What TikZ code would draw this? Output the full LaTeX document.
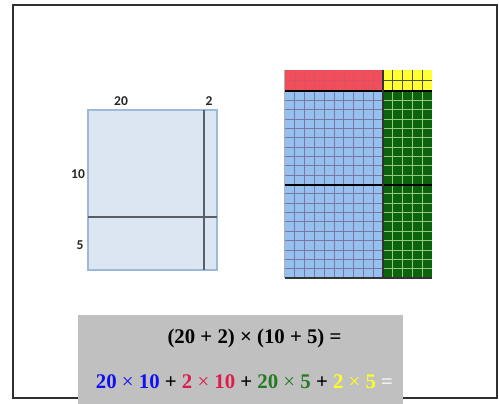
\documentclass[tikz,border=0pt]{standalone}
\usepackage{fontspec}
\setmainfont{Liberation Serif}
\newfontfamily\lblfont{Carlito}
\definecolor{framecol}{HTML}{303030}
\definecolor{boxfill}{HTML}{DCE6F2}
\definecolor{boxborder}{HTML}{9DB9D9}
\definecolor{innerline}{HTML}{5A5F66}
\definecolor{graybox}{HTML}{C0C0C0}
\definecolor{bluec}{HTML}{96C0F0}
\definecolor{greenc}{HTML}{0B640B}
\definecolor{redc}{HTML}{F04E5A}
\definecolor{yelc}{HTML}{FFFF33}
\definecolor{tblue}{HTML}{1010F0}
\definecolor{tred}{HTML}{DC1C4C}
\definecolor{tgreen}{HTML}{237A23}
\definecolor{tyel}{HTML}{FFFF20}
\definecolor{twhite}{HTML}{F4F4F4}
\tikzset{
  sidelbl/.style={font=\lblfont\bfseries\fontsize{13.5}{13.5}\selectfont, text=black!85, inner sep=0pt},
  eqtext/.style={font=\fontsize{20.8}{20.8}\selectfont, inner sep=0pt, anchor=base},
  bluegrid/.style={draw={rgb,255:red,120;green,120;blue,160}, line width=0.9pt},
  greengrid/.style={draw={rgb,255:red,150;green,200;blue,130}, line width=0.9pt},
  yelgrid/.style={draw={rgb,255:red,80;green,80;blue,40}, line width=0.9pt},
  redgrid/.style={draw={rgb,255:red,220;green,80;blue,100}, line width=0.6pt},
  thickline/.style={draw=black, line width=2pt}
}
\begin{document}
\begin{tikzpicture}[x=1pt,y=-1pt]
\useasboundingbox (0,0) rectangle (499,404);
\fill[white] (0,0) rectangle (499,404);
% frame
\draw[framecol, line width=2.2pt] (13,5) rectangle (497,398);
% left area model
\draw[fill=boxfill, draw=boxborder, line width=1.2pt] (88,110) rectangle (217,270);
\draw[innerline, line width=1.4pt] (204,110) -- (204,270);
\draw[innerline, line width=1.4pt] (88,217) -- (217,217);
\node[sidelbl] (l20) at (121,101) {20};
\node[sidelbl] (l2) at (209,101) {2};
\node[sidelbl] (l10) at (78,174) {10};
\node[sidelbl] (l5) at (80,245) {5};
% grid
\fill[redc] (285,70) rectangle (383,91);
\fill[yelc] (383,70) rectangle (432,91);
\fill[bluec] (285,91) rectangle (383,278);
\fill[greenc] (383,91) rectangle (432,278);
\foreach \i in {1,...,9} {
  \draw[bluegrid] ({285+9.8*\i},91) -- ({285+9.8*\i},278);
  \draw[redgrid] ({285+9.8*\i},70) -- ({285+9.8*\i},91);
}
\foreach \j in {1,...,19} {
  \draw[bluegrid] (285,{91+9.35*\j}) -- (383,{91+9.35*\j});
  \draw[greengrid] (383,{91+9.35*\j}) -- (432,{91+9.35*\j});
}
\foreach \i in {1,...,4} {
  \draw[greengrid] ({383+9.8*\i},91) -- ({383+9.8*\i},278);
  \draw[yelgrid] ({383+9.8*\i},70) -- ({383+9.8*\i},91);
}
\draw[redgrid] (285,80.5) -- (383,80.5);
\draw[yelgrid] (383,80.5) -- (432,80.5);
\draw[thickline] (285,91) -- (432,91);
\draw[thickline, line width=1.6pt] (285,185) -- (432,185);
\draw[draw=black!80, line width=1.2pt] (383,70) -- (383,278);
\draw[draw=black!80, line width=1.2pt] (285,278) -- (432,278);
\draw[draw=black!30, line width=1pt] (284.5,70) -- (284.5,278);
% equation box
\fill[graybox] (78,315) rectangle (403,404);
\node[eqtext] (eq1) at (254.5,343) {\bfseries (20 + 2) × (10 + 5) =};
\node[eqtext] (eq2) at (244.5,388) {\textbf{\color{tblue}20 {\mdseries ×} 10} \textbf{+} \textbf{\color{tred}2 {\mdseries ×} 10} \textbf{+} \textbf{\color{tgreen}20 {\mdseries ×} 5} \textbf{+} \textbf{\color{tyel}2 {\mdseries ×} 5} \textbf{\color{twhite}=}};
\end{tikzpicture}
\end{document}
